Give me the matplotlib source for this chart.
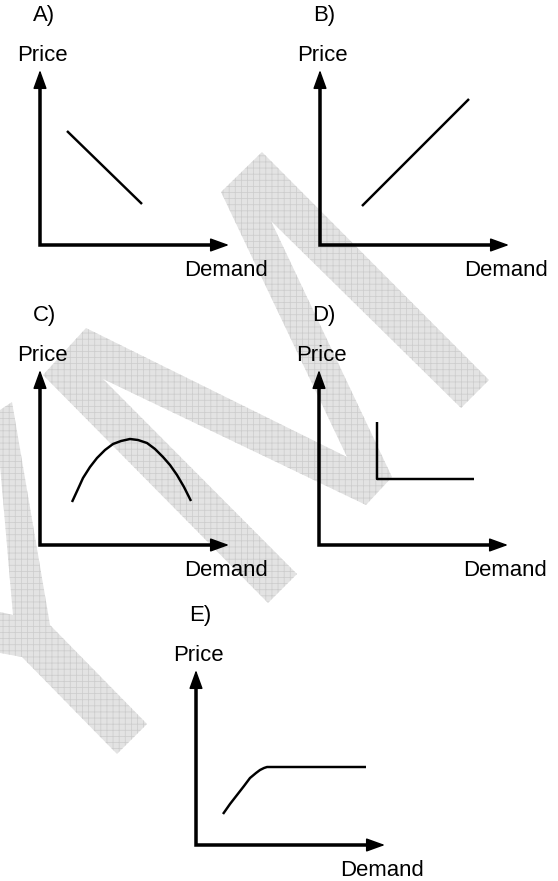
import numpy as np
import matplotlib.pyplot as plt
from matplotlib.patches import Polygon

plt.rcParams['font.family'] = ['Liberation Sans', 'DejaVu Sans']
plt.rcParams['hatch.linewidth'] = 0.5

W, H, DPI = 558, 881, 110

panel_labels = ['A)', 'B)', 'C)', 'D)', 'E)']
origin_x = [40, 320, 40, 319, 196]
origin_y = [245, 245, 545, 545, 845]
price_axis_len = 175
demand_axis_len = 189

# curves: demand = px right of origin, price = px above origin
a_demand = [27, 102]
a_price = [114, 41]
b_demand = [42, 149]
b_price = [39, 146]
c_demand = [32, 38, 43, 50, 57, 65, 73, 81, 90, 98, 107, 115, 123, 130, 137, 144, 151]
c_price = [43, 56, 67, 78, 87, 95, 101, 104, 106, 105, 102, 96, 88, 80, 70, 58, 44]
d_demand = [58, 58, 155]
d_price = [123, 66, 66]
e_demand = [27, 34, 41, 48, 54, 60, 64, 68, 71, 170]
e_price = [31, 41, 50, 59, 67, 72, 75, 77, 78, 78]
curves_demand = [a_demand, b_demand, c_demand, d_demand, e_demand]
curves_price = [a_price, b_price, c_price, d_price, e_price]

# watermark outline (pixels)
wm_main_x = [489, 262, 221, 347, 86, 43, 268, 297, 103, 366, 392, 271, 461]
wm_main_y = [380, 152, 192, 457, 328, 375, 603, 574, 379, 505, 477, 221, 408]
wm_left_x = [0, 12, 50, 147, 117, 22, 0, 0, 13, 0]
wm_left_y = [410, 402, 625, 724, 754, 657, 653, 612, 615, 465]

fig = plt.figure(figsize=(W / DPI, H / DPI), dpi=DPI)
ax = fig.add_axes([0, 0, 1, 1])
ax.set_xlim(0, W)
ax.set_ylim(H, 0)
ax.axis('off')

for xs, ys in [(wm_main_x, wm_main_y), (wm_left_x, wm_left_y)]:
    ax.add_patch(Polygon(np.column_stack([xs, ys]), closed=True, facecolor='#e3e3e3',
                         edgecolor='#cdcdcd', linewidth=0, hatch='+++', zorder=0))


def draw_panel(ax, label, ox, oy, demand, price):
    tip = 8
    ax.plot([ox, ox, ox + demand_axis_len - tip], [oy - price_axis_len + tip, oy, oy],
            color='black', lw=2.3, solid_joinstyle='miter', solid_capstyle='butt', zorder=3)
    style = '-|>,head_length=1.05,head_width=0.38'
    ax.annotate('', xy=(ox, oy - price_axis_len), xytext=(ox, oy - price_axis_len + 10),
                arrowprops=dict(arrowstyle=style, color='black', lw=1, mutation_scale=10,
                                shrinkA=0, shrinkB=0), zorder=3)
    ax.annotate('', xy=(ox + demand_axis_len, oy), xytext=(ox + demand_axis_len - 10, oy),
                arrowprops=dict(arrowstyle=style, color='black', lw=1, mutation_scale=10,
                                shrinkA=0, shrinkB=0), zorder=3)
    ax.plot(ox + np.array(demand), oy - np.array(price), color='black', lw=1.6,
            solid_joinstyle='round', solid_capstyle='butt', zorder=3)
    ax.text(ox - 7, oy - 224, label, fontsize=14.5, ha='left', va='baseline', zorder=4)
    ax.text(ox - 23, oy - 184, 'Price', fontsize=14.5, ha='left', va='baseline', zorder=4)
    ax.text(ox + 144, oy + 31, 'Demand', fontsize=14.5, ha='left', va='baseline', zorder=4)


for i in range(len(panel_labels)):
    draw_panel(ax, panel_labels[i], origin_x[i], origin_y[i], curves_demand[i], curves_price[i])

fig.savefig('out.png', dpi=DPI)
